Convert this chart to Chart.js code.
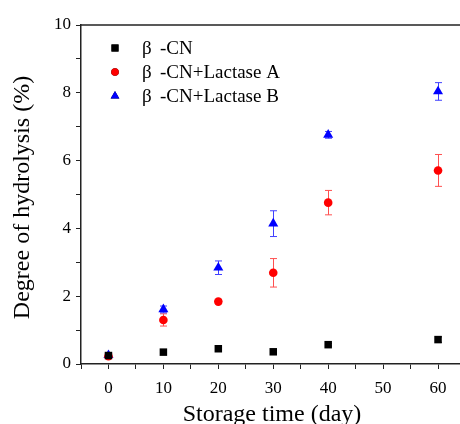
<!DOCTYPE html>
<html>
<head>
<meta charset="utf-8">
<style>
html,body{margin:0;padding:0;background:#fff;}
#wrap{width:460px;height:424px;position:relative;}
</style>
<script src="https://cdn.jsdelivr.net/npm/chart.js@4/dist/chart.umd.min.js"></script>
</head>
<body>
<div id="wrap"><canvas id="c" width="460" height="424"></canvas></div>
<script>
const days = [0, 10, 20, 30, 40, 60];
const seriesNames = ['\u03B2 -CN', '\u03B2 -CN+Lactase A', '\u03B2 -CN+Lactase B'];
const cnValues = [0.25, 0.35, 0.45, 0.36, 0.57, 0.72];
const cnErrors = [0.03, 0.03, 0.03, 0.03, 0.04, 0.08];
const lacAValues = [0.23, 1.30, 1.84, 2.69, 4.76, 5.71];
const lacAErrors = [0.04, 0.18, 0.06, 0.42, 0.36, 0.47];
const lacBValues = [0.26, 1.61, 2.84, 4.14, 6.76, 8.04];
const lacBErrors = [0.04, 0.10, 0.20, 0.38, 0.10, 0.26];
const xTickLabels = [0, 10, 20, 30, 40, 50, 60];
const yTickLabels = [0, 2, 4, 6, 8, 10];

const serif = "'Liberation Serif', 'Times New Roman', serif";

function pts(vals){ return days.map((d,i)=>({x:d, y:vals[i]})); }

const datasets = [
  {label: seriesNames[0], data: pts(cnValues), errors: cnErrors, pointStyle:'rect', pointRadius:5.3, legendRadius:5, backgroundColor:'#000', borderColor:'#000', borderWidth:0, errColor:'#333'},
  {label: seriesNames[1], data: pts(lacAValues), errors: lacAErrors, pointStyle:'circle', pointRadius:4.3, legendRadius:3.8, backgroundColor:'#ff0000', borderColor:'#ff0000', borderWidth:0, errColor:'#ff5050'},
  {label: seriesNames[2], data: pts(lacBValues), errors: lacBErrors, pointStyle:'triangle', pointRadius:5.8, legendRadius:5, backgroundColor:'#0000ff', borderColor:'#0000ff', borderWidth:0, errColor:'#4040ff'}
];

const errorBars = {
  id:'errorBars',
  beforeDatasetsDraw(chart){
    const ctx = chart.ctx, xs = chart.scales.x, ys = chart.scales.y;
    ctx.save();
    chart.data.datasets.forEach(ds=>{
      ctx.strokeStyle = ds.errColor; ctx.lineWidth = 1;
      ds.data.forEach((p,i)=>{
        const e = ds.errors[i];
        const px = Math.round(xs.getPixelForValue(p.x)) + 0.5;
        const top = ys.getPixelForValue(p.y + e), bot = ys.getPixelForValue(p.y - e);
        ctx.beginPath();
        ctx.moveTo(px, top); ctx.lineTo(px, bot);
        ctx.moveTo(px-3.5, top); ctx.lineTo(px+3.5, top);
        ctx.moveTo(px-3.5, bot); ctx.lineTo(px+3.5, bot);
        ctx.stroke();
      });
    });
    ctx.restore();
  }
};

const decor = {
  id:'decor',
  afterDraw(chart){
    const ctx = chart.ctx, a = chart.chartArea;
    ctx.save();
    ctx.strokeStyle = '#222'; ctx.lineWidth = 1.5;
    ctx.beginPath(); ctx.moveTo(a.left, a.top); ctx.lineTo(a.right, a.top); ctx.stroke();
    ctx.fillStyle = '#000';
    ctx.font = '24px ' + serif;
    ctx.textAlign = 'center'; ctx.textBaseline = 'alphabetic';
    ctx.fillText('Storage time (day)', 272, 421);
    ctx.save();
    ctx.translate(29, (a.top + a.bottom)/2 + 3);
    ctx.rotate(-Math.PI/2);
    ctx.fillText('Degree of hydrolysis (%)', 0, 0);
    ctx.restore();
    const ly = [48, 72, 96];
    ctx.font = '19px ' + serif;
    ctx.textAlign = 'left'; ctx.textBaseline = 'middle';
    chart.data.datasets.forEach((ds,i)=>{
      Chart.helpers.drawPoint(ctx, {pointStyle: ds.pointStyle, radius: ds.legendRadius, rotation:0, borderWidth:0}, 115, ly[i]);
      ctx.fillStyle = ds.backgroundColor; ctx.fill();
      ctx.fillStyle = '#000';
      const sp = ds.label.indexOf(' ');
      ctx.fillText(ds.label.slice(0, sp), 142, ly[i] + 1);
      ctx.fillText(ds.label.slice(sp + 1), 160, ly[i] + 1);
    });
    ctx.restore();
  }
};

new Chart(document.getElementById('c'), {
  type:'scatter',
  data:{datasets},
  plugins:[errorBars, decor],
  options:{
    responsive:false,
    animation:false,
    devicePixelRatio:1,
    layout:{autoPadding:false, padding:{top:25, right:0, left:0, bottom:0}},
    plugins:{legend:{display:false}, tooltip:{enabled:false}},
    scales:{
      x:{
        type:'linear', min:-5, max:64,
        afterFit(s){ s.height = 60; s.paddingRight = 0; s.paddingLeft = 0; },
        afterBuildTicks(s){ const t=[]; for(let v=-5; v<=60; v+=5) t.push({value:v}); s.ticks = t; },
        ticks:{
          font:{family:serif, size:17}, color:'#000', padding:9, maxRotation:0, autoSkip:false,
          callback:(v)=> xTickLabels.includes(v) ? String(v) : ''
        },
        grid:{drawOnChartArea:false, drawTicks:true, tickLength:5, color:'#222', lineWidth:1},
        border:{color:'#222', width:1.5}
      },
      y:{
        type:'linear', min:0, max:10,
        afterFit(s){ s.width = 81; s.paddingTop = 0; s.paddingBottom = 0; },
        afterBuildTicks(s){ const t=[]; for(let v=0; v<=10; v+=1) t.push({value:v}); s.ticks = t; },
        ticks:{
          font:{family:serif, size:17}, color:'#000', padding:5, autoSkip:false,
          callback:(v)=> yTickLabels.includes(v) ? String(v) : ''
        },
        grid:{drawOnChartArea:false, drawTicks:true, tickLength:5, color:'#222', lineWidth:1},
        border:{color:'#222', width:1.5}
      }
    }
  }
});
</script>
</body>
</html>
